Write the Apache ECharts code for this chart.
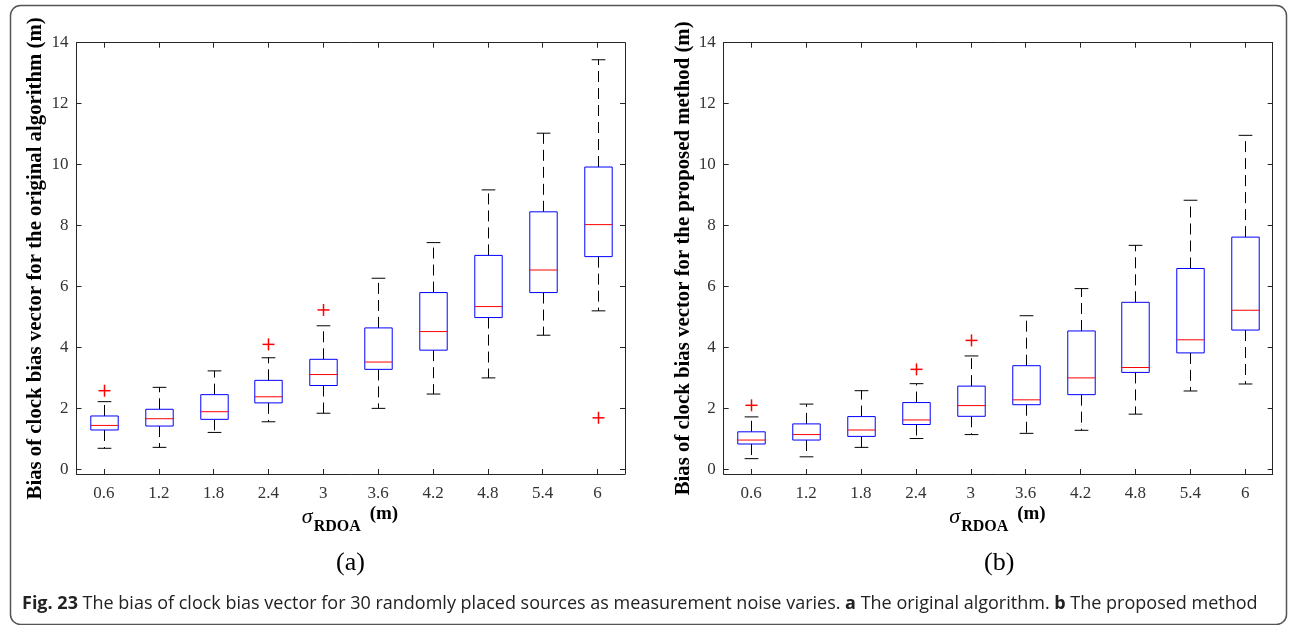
<!DOCTYPE html>
<html>
<head>
<meta charset="utf-8">
<script src="https://cdn.jsdelivr.net/npm/echarts@6/dist/echarts.min.js"></script>
<style>
html,body{margin:0;padding:0;background:#fff;}
#chart{width:1291px;height:625px;}
</style>
</head>
<body>
<div id="chart"></div>
<script>
// ---- data ----
const categories = ['0.6','1.2','1.8','2.4','3','3.6','4.2','4.8','5.4','6'];
const yTicks = [0,2,4,6,8,10,12,14];

// (a) original algorithm
const lowA  = [0.69,0.72,1.21,1.56,1.84,2.00,2.47,3.00,4.40,5.20];
const q1A   = [1.29,1.42,1.64,2.18,2.75,3.28,3.91,4.98,5.80,6.98];
const medA  = [1.44,1.66,1.89,2.38,3.11,3.52,4.52,5.34,6.54,8.03];
const q3A   = [1.75,1.97,2.45,2.92,3.61,4.64,5.80,7.02,8.45,9.92];
const highA = [2.22,2.69,3.23,3.66,4.71,6.27,7.44,9.17,11.03,13.44];
const outIdxA = [0,3,4,9];
const outValA = [2.58,4.10,5.23,1.69];

// (b) proposed method
const lowB  = [0.35,0.41,0.72,1.01,1.14,1.18,1.28,1.81,2.57,2.80];
const q1B   = [0.83,0.96,1.08,1.47,1.74,2.12,2.45,3.18,3.82,4.57];
const medB  = [0.96,1.14,1.29,1.62,2.09,2.28,3.00,3.34,4.25,5.22];
const q3B   = [1.23,1.49,1.73,2.19,2.73,3.40,4.54,5.48,6.59,7.62];
const highB = [1.72,2.14,2.58,2.81,3.72,5.04,5.93,7.35,8.83,10.96];
const outIdxB = [0,3,4];
const outValB = [2.10,3.28,4.23];

const yLabelA = 'Bias of clock bias vector for the original algorithm (m)';
const yLabelB = 'Bias of clock bias vector for the proposed method (m)';
const captionText = '{b|Fig. 23} The bias of clock bias vector for 30 randomly placed sources as measurement noise varies. {b|a} The original algorithm. {b|b} The proposed method';

// ---- build ----
function boxData(lo,q1,md,q3,hi){
  return categories.map((c,i)=>[i,lo[i],q1[i],md[i],q3[i],hi[i]]);
}
function outData(idx,val){ return idx.map((k,i)=>[k,val[i]]); }

const AX = '#262626';
const SERIF = '"Liberation Serif", "Times New Roman", serif';

function renderBox(params, api){
  const i = api.value(0);
  const lo = api.coord([i, api.value(1)]);
  const q1 = api.coord([i, api.value(2)]);
  const md = api.coord([i, api.value(3)]);
  const q3 = api.coord([i, api.value(4)]);
  const hi = api.coord([i, api.value(5)]);
  const band = api.size([1,0])[0];
  const hw = band*0.25, cw = band*0.125;
  const x = Math.round(lo[0]) + 0.5;
  const wStyle = {stroke:'#000', lineWidth:1, lineDash:[11,6], fill:null};
  const cStyle = {stroke:'#000', lineWidth:1, fill:null};
  return {type:'group', children:[
    {type:'line', shape:{x1:x,y1:q3[1],x2:x,y2:hi[1]}, style:wStyle},
    {type:'line', shape:{x1:x,y1:q1[1],x2:x,y2:lo[1]}, style:wStyle},
    {type:'line', shape:{x1:x-cw,y1:hi[1],x2:x+cw,y2:hi[1]}, style:cStyle},
    {type:'line', shape:{x1:x-cw,y1:lo[1],x2:x+cw,y2:lo[1]}, style:cStyle},
    {type:'rect', shape:{x:x-hw, y:q3[1], width:2*hw, height:q1[1]-q3[1]}, style:{fill:'#fff', stroke:'#0000ff', lineWidth:1}},
    {type:'line', shape:{x1:x-hw,y1:md[1],x2:x+hw,y2:md[1]}, style:{stroke:'#ff0000', lineWidth:1}}
  ]};
}
function renderOut(params, api){
  const p = api.coord([api.value(0), api.value(1)]);
  const s = 6;
  const x = Math.round(p[0])+0.5;
  return {type:'group', children:[
    {type:'line', shape:{x1:x-s,y1:p[1],x2:x+s,y2:p[1]}, style:{stroke:'#ff0000', lineWidth:1.5}},
    {type:'line', shape:{x1:x,y1:p[1]-s,x2:x,y2:p[1]+s}, style:{stroke:'#ff0000', lineWidth:1.5}}
  ]};
}

const tickRich = {t:{fontFamily:SERIF, fontSize:17, color:'#333'}};

function xAx(grid, top){
  return {
    type:'category', gridIndex:grid, data:categories, position: top?'top':'bottom',
    boundaryGap:true,
    axisLine:{show:true, onZero:false, lineStyle:{color:AX, width:1}},
    axisTick:{show:true, inside:true, length:5, alignWithLabel:true, interval:0, lineStyle:{color:AX}},
    axisLabel:{show:!top, color:'#333', fontFamily:SERIF, fontSize:17, margin:11, interval:0,
      formatter:v=>'{t|'+v+'}', rich:tickRich},
    splitLine:{show:false}
  };
}
function yAx(grid, right, name){
  return {
    type:'value', gridIndex:grid, min:-0.154, max:14, position: right?'right':'left',
    name: right?'':name, nameLocation:'middle', nameGap:30,
    nameTextStyle:{color:'#000', fontFamily:SERIF, fontWeight:'bold', fontSize:20.8},
    axisLine:{show:true, onZero:false, lineStyle:{color:AX, width:1}},
    axisTick:{show:true, inside:true, length:5, customValues:yTicks, lineStyle:{color:AX}},
    axisLabel:{show:!right, color:'#333', fontFamily:SERIF, fontSize:17, margin:8, customValues:yTicks,
      formatter:v=>'{t|'+v+'}', rich:tickRich},
    splitLine:{show:false}
  };
}

function xTitle(cx){
  return [
    {type:'text', left:cx-49, top:506, style:{text:'σ', font:'italic 22px "Liberation Serif"', fill:'#000'}},
    {type:'text', left:cx-37, top:519, style:{text:'RDOA', font:'bold 16px "Liberation Serif"', fill:'#000'}},
    {type:'text', left:cx+19, top:505, style:{text:'(m)', font:'bold 19px "Liberation Serif"', fill:'#000'}}
  ];
}

const chart = echarts.init(document.getElementById('chart'), null, {renderer:'canvas'});
chart.setOption({
  animation:false,
  backgroundColor:'#fff',
  textStyle:{fontFamily:SERIF},
  grid:[
    {left:76.5, width:548.5, top:42.7, height:431.3},
    {left:723.7, width:549, top:42.7, height:431.3}
  ],
  xAxis:[xAx(0,false), xAx(0,true), xAx(1,false), xAx(1,true)],
  yAxis:[yAx(0,false,yLabelA), yAx(0,true,''), yAx(1,false,yLabelB), yAx(1,true,'')],
  series:[
    {type:'custom', xAxisIndex:0, yAxisIndex:0, renderItem:renderBox, data:boxData(lowA,q1A,medA,q3A,highA), encode:{x:0,y:[1,2,3,4,5]}},
    {type:'custom', xAxisIndex:0, yAxisIndex:0, renderItem:renderOut, data:outData(outIdxA,outValA), encode:{x:0,y:1}},
    {type:'custom', xAxisIndex:2, yAxisIndex:2, renderItem:renderBox, data:boxData(lowB,q1B,medB,q3B,highB), encode:{x:0,y:[1,2,3,4,5]}},
    {type:'custom', xAxisIndex:2, yAxisIndex:2, renderItem:renderOut, data:outData(outIdxB,outValB), encode:{x:0,y:1}}
  ],
  graphic:[
    {type:'rect', left:8, top:3, shape:{width:1276, height:619, r:10}, style:{fill:null, stroke:'#555', lineWidth:1.5}, silent:true},
    ...xTitle(350.7),
    ...xTitle(998.2),
    {type:'text', left:336, top:550, style:{text:'(a)', font:'26px "Liberation Serif"', fill:'#000'}},
    {type:'text', left:984, top:550, style:{text:'(b)', font:'26px "Liberation Serif"', fill:'#000'}},
    {type:'text', left:22, top:595, style:{text:captionText, fill:'#222', font:'18px "Open Sans", sans-serif',
      rich:{b:{fontWeight:'bold', fontSize:18, fontFamily:'Open Sans', fill:'#222'}}}}
  ]
});
</script>
</body>
</html>
